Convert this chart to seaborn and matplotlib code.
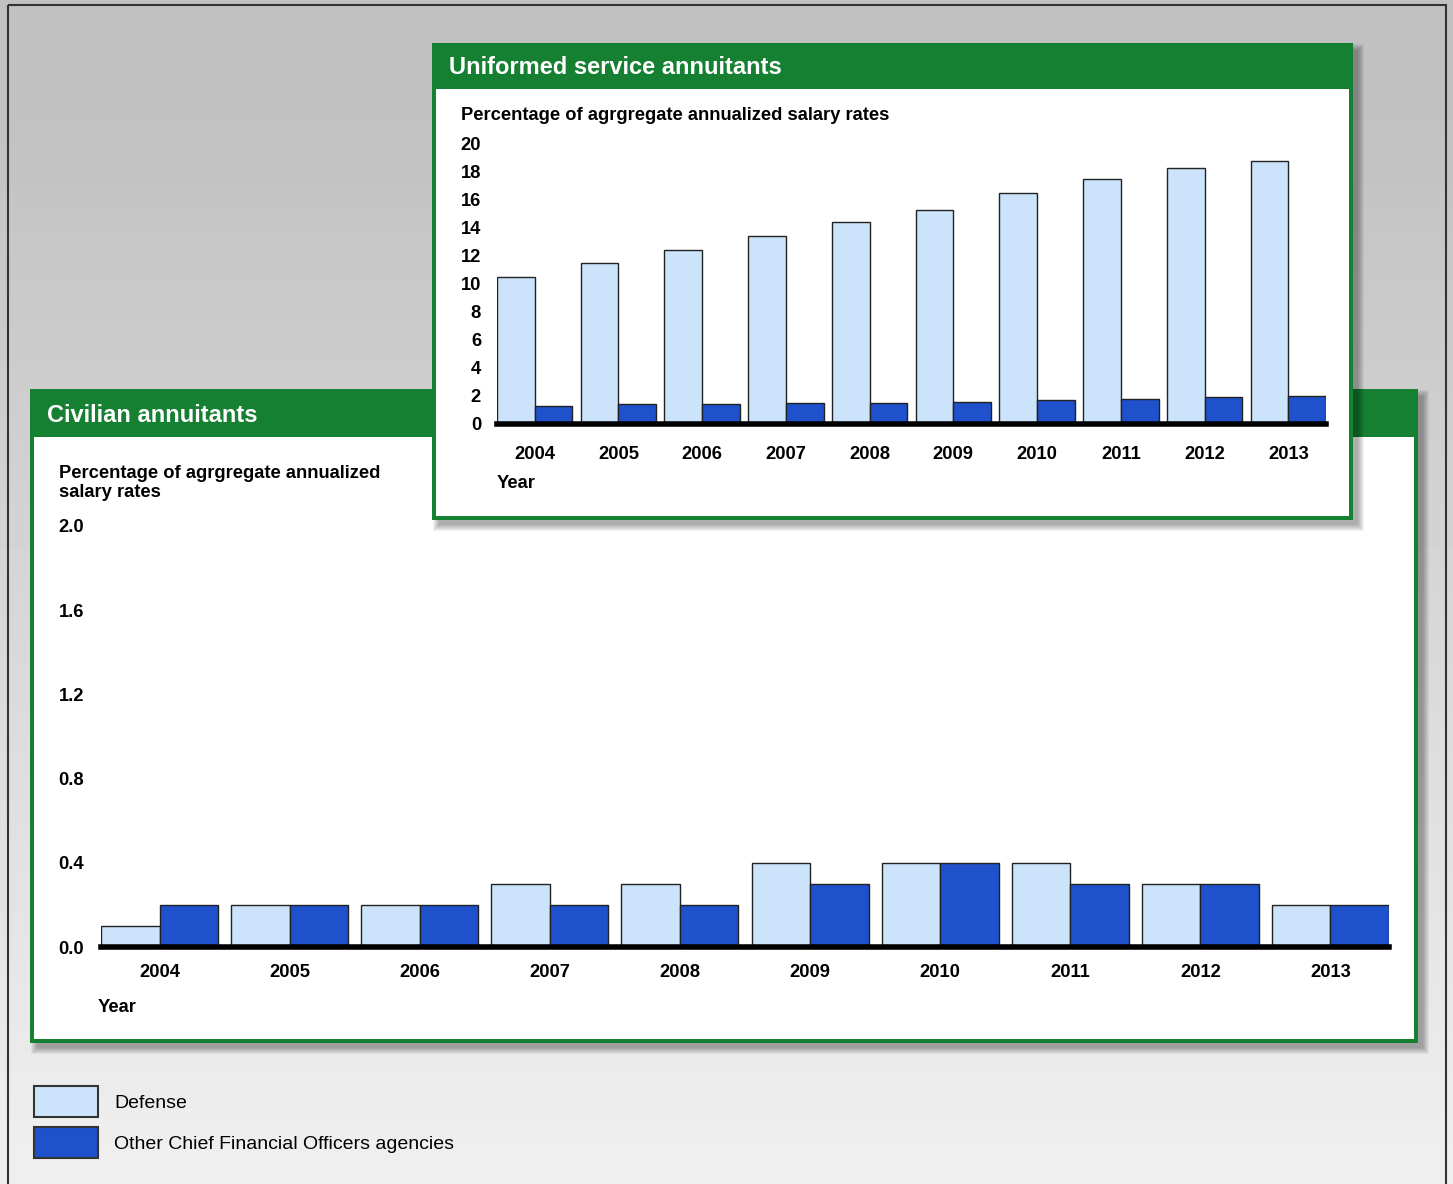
import numpy as np
import pandas as pd
import matplotlib.pyplot as plt
from matplotlib.patches import Rectangle
import seaborn as sns

# data
years = [str(y) for y in range(2004, 2014)]
series_names = ["Defense", "Other Chief Financial Officers agencies"]
uniformed_defense = [10.5, 11.5, 12.4, 13.4, 14.4, 15.3, 16.5, 17.5, 18.3, 18.8]
uniformed_other = [1.3, 1.4, 1.4, 1.5, 1.5, 1.6, 1.7, 1.8, 1.9, 2.0]
civilian_defense = [0.1, 0.2, 0.2, 0.3, 0.3, 0.4, 0.4, 0.4, 0.3, 0.2]
civilian_other = [0.2, 0.2, 0.2, 0.2, 0.2, 0.3, 0.4, 0.3, 0.3, 0.2]
uniformed_yticks = [0, 2, 4, 6, 8, 10, 12, 14, 16, 18, 20]
civilian_yticks = [0.0, 0.4, 0.8, 1.2, 1.6, 2.0]
ylabel_text = "Percentage of agrgregate annualized salary rates"

colors = {"Defense": "#cce4fb", "Other Chief Financial Officers agencies": "#1f51cc"}
green = "#157f32"
fs = 13.2  # bold label size

plt.rcParams['font.family'] = ['Liberation Sans', 'DejaVu Sans']

W, H = 1453, 1184


def frac(x0, y0, x1, y1):
    return [x0 / W, 1 - y1 / H, (x1 - x0) / W, (y1 - y0) / H]


def long_df(defense, other):
    return pd.DataFrame({
        "year": years * 2,
        "series": [series_names[0]] * len(years) + [series_names[1]] * len(years),
        "value": list(defense) + list(other),
    })


def shadow(ax, x0, y0, x1, y1, off=8, blur=7):
    for k in range(blur, 0, -1):
        ax.add_patch(Rectangle((x0 + off - k, y0 + off - k), (x1 - x0) + 2 * k - 4, (y1 - y0) + 2 * k - 4,
                               color="black", alpha=0.05, lw=0))


def panel(ax, x0, y0, x1, y1, head, title):
    shadow(ax, x0, y0, x1, y1)
    ax.add_patch(Rectangle((x0, y0), x1 - x0, y1 - y0, color=green, lw=0))
    ax.add_patch(Rectangle((x0 + 4, y0 + head), x1 - x0 - 8, y1 - y0 - head - 4, color="white", lw=0))
    ax.text(x0 + 17, y0 + head / 2 + 2, title, color="white", fontsize=17, fontweight="bold",
            ha="left", va="center")


def overlay(z):
    a = fig.add_axes([0, 0, 1, 1], zorder=z)
    a.set_xlim(0, W)
    a.set_ylim(H, 0)
    a.axis("off")
    return a


def style_bars(ax, yticks, ylim, ylabels, xpad, ypad):
    ax.set_facecolor("none")
    ax.set_xlim(-0.45, 9.45)
    ax.set_ylim(*ylim)
    ax.set_yticks(yticks)
    ax.set_yticklabels(ylabels)
    ax.set_xlabel("")
    ax.set_ylabel("")
    for s in ["top", "right", "left"]:
        ax.spines[s].set_visible(False)
    ax.spines["bottom"].set_linewidth(4)
    ax.spines["bottom"].set_color("black")
    ax.tick_params(axis="x", length=0, labelsize=fs, pad=xpad)
    ax.tick_params(axis="y", length=0, labelsize=fs, pad=ypad)
    for lbl in ax.get_xticklabels() + ax.get_yticklabels():
        lbl.set_fontweight("bold")


fig = plt.figure(figsize=(W / 100, H / 100), dpi=100)

# background and civilian panel
bg = overlay(0)
grad = np.concatenate([np.full(100, 0.755), np.linspace(0.755, 0.935, 1050), np.full(34, 0.935)])
bg.imshow(grad.reshape(-1, 1), cmap="gray", vmin=0, vmax=1, aspect="auto", extent=(0, W, H, 0))
bg.add_patch(Rectangle((8, 5), 1438, 1200, fill=False, edgecolor="#333333", lw=1.5))
panel(bg, 30, 389, 1418, 1043, 48, "Civilian annuitants")
bg.text(59, 483, "Percentage of agrgregate annualized\nsalary rates", fontsize=fs,
        fontweight="bold", ha="left", va="center", linespacing=1.2)
bg.text(98, 1008, "Year", fontsize=fs, fontweight="bold", ha="left", va="center")

# civilian bars
ax_c = fig.add_axes(frac(101, 526, 1389, 947), zorder=1)
sns.barplot(data=long_df(civilian_defense, civilian_other), x="year", y="value", hue="series",
            palette=colors, saturation=1, width=0.9, edgecolor="#222222", linewidth=1, ax=ax_c)
handles = ax_c.legend_.legend_handles
labels = [t.get_text() for t in ax_c.legend_.texts]
ax_c.legend_.remove()
style_bars(ax_c, civilian_yticks, (0, 2.0), [f"{v:.1f}" for v in civilian_yticks], 12, 12)

# uniformed panel
front = overlay(2)
panel(front, 432, 43, 1353, 520, 46, "Uniformed service annuitants")
front.text(461, 115, ylabel_text, fontsize=fs, fontweight="bold", ha="left", va="center")
front.text(497, 483, "Year", fontsize=fs, fontweight="bold", ha="left", va="center")

ax_u = fig.add_axes(frac(497, 144, 1326, 424), zorder=3)
sns.barplot(data=long_df(uniformed_defense, uniformed_other), x="year", y="value", hue="series",
            palette=colors, saturation=1, width=0.9, edgecolor="#222222", linewidth=1, ax=ax_u,
            legend=False)
style_bars(ax_u, uniformed_yticks, (0, 20), [str(v) for v in uniformed_yticks], 16, 11.5)

# legend
for h in handles:
    h.set_edgecolor("#333333")
    h.set_linewidth(1.5)
fig.legend(handles, labels, loc="upper left", bbox_to_anchor=(34 / W, 1 - 1086 / H),
           frameon=False, fontsize=14, handlelength=3.3, handleheight=2.1,
           handletextpad=0.82, labelspacing=0.5, borderpad=0, borderaxespad=0)

fig.savefig("out.png", dpi=100)
